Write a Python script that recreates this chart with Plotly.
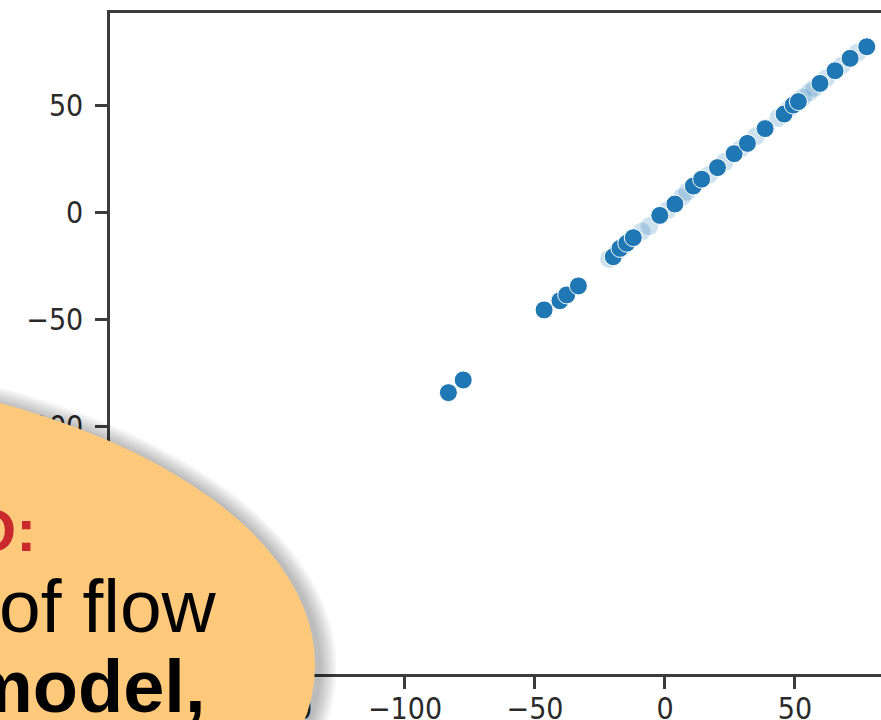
import plotly.graph_objects as go

# ---- data ----
x_main = [-83.3, -77.6, -46.5, -40.4, -37.8, -33.3, -19.9, -17.3, -14.7, -12.2,
          -2.0, 3.8, 10.9, 14.1, 20.2, 26.6, 31.7, 38.5, 45.8, 49.3,
          51.3, 59.6, 65.4, 71.2, 77.6]
y_main = [-84.2, -78.3, -45.6, -41.3, -38.6, -34.4, -20.8, -16.9, -14.5, -11.9,
          -1.5, 3.8, 12.2, 15.4, 20.8, 27.3, 32.1, 39.0, 45.8, 50.0,
          51.6, 60.1, 66.0, 71.8, 77.2]
x_faint = [-21.5, -18.5, -16.0, -9.0, -6.0, 1.0, 6.5, 8.5, 17.0, 23.0,
           29.0, 35.0, 43.5, 47.5, 53.0, 55.5, 57.5, 62.0, 68.0, 74.0]
y_faint = [-21.8, -18.6, -16.0, -9.0, -6.5, 1.0, 7.0, 9.5, 17.5, 23.5,
           29.5, 35.5, 44.0, 48.0, 53.5, 56.0, 58.0, 62.5, 68.5, 74.5]
tick_vals = [-200, -150, -100, -50, 0, 50]
x_range = [-213.46, 83.08]
y_range = [-215.5, 92.95]
callout_lines = ["TODO:", "of flow", "model,"]

W, H = 881, 720
L, T, R, B = 110, 13, 0, 46
PW, PH = W - L - R, H - T - B

def px(p):
    return (p - L) / PW

def py(p):
    return 1 - (p - T) / PH

fig = go.Figure()
fig.add_trace(go.Scatter(x=x_faint, y=y_faint, mode="markers",
                         marker=dict(size=18, color="#1f77b4", opacity=0.22,
                                     line=dict(width=0)),
                         hoverinfo="skip", showlegend=False))
fig.add_trace(go.Scatter(x=x_main, y=y_main, mode="markers",
                         marker=dict(size=18, color="#1f77b4",
                                     line=dict(width=1, color="white")),
                         showlegend=False))

axis_col = "#3c3c3c"
common = dict(showgrid=False, zeroline=False, showline=True, linecolor=axis_col,
              linewidth=2.5, ticks="outside", ticklen=12, tickwidth=2.5,
              tickcolor=axis_col, tickvals=tick_vals, automargin=False,
              tickfont=dict(family="DejaVu Sans Condensed, DejaVu Sans",
                            size=30, color="#2a2a2a"))
fig.update_xaxes(range=x_range, mirror=True, ticklabelstandoff=-6, **common)
fig.update_yaxes(range=y_range, ticklabelstandoff=6, **common)

# callout bubble with soft shadow
cx, cy, a, b = -300, 665, 615, 300
shapes = []
for k in range(8, 0, -1):
    g = k * 2.2
    shapes.append(dict(type="circle", xref="paper", yref="paper", layer="above",
                       x0=px(cx - a - g + 4), x1=px(cx + a + g + 4),
                       y0=py(cy - b - g + 3), y1=py(cy + b + g + 3),
                       fillcolor="rgba(0,0,0,0.035)", line=dict(width=0)))
shapes.append(dict(type="circle", xref="paper", yref="paper", layer="above",
                   x0=px(cx - a), x1=px(cx + a), y0=py(cy - b), y1=py(cy + b),
                   fillcolor="#FFC97B", line=dict(width=0)))

ann = [
    dict(text="<b>" + callout_lines[0] + "</b>", x=px(38), y=py(530),
         color="#C9282D", size=60),
    dict(text=callout_lines[1], x=px(219), y=py(606), color="black", size=75),
    dict(text="<b>" + callout_lines[2] + "</b>", x=px(207), y=py(686),
         color="black", size=74),
]
annotations = [dict(text=d["text"], x=d["x"], y=d["y"], xref="paper",
                    yref="paper", xanchor="right", yanchor="middle",
                    showarrow=False,
                    font=dict(family="Liberation Sans", size=d["size"],
                              color=d["color"]))
               for d in ann]

fig.update_layout(width=W, height=H, margin=dict(l=L, r=R, t=T, b=B),
                  paper_bgcolor="white", plot_bgcolor="white",
                  shapes=shapes, annotations=annotations)
fig.write_html("out.html")
